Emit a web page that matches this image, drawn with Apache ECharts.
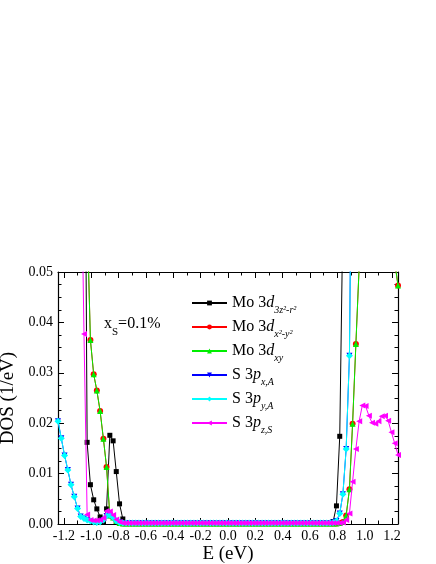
<!DOCTYPE html>
<html>
<head>
<meta charset="utf-8">
<script src="https://cdn.jsdelivr.net/npm/echarts@6/dist/echarts.min.js"></script>
<style>html,body{margin:0;padding:0;background:#fff}#c{width:436px;height:564px}</style>
</head>
<body>
<div id="c"></div>
<script>
// Energy grid (eV)
const energy = [
-1.243,-1.219,-1.195,-1.171,-1.148,-1.124,-1.100,-1.077,-1.053,-1.030,
-1.006,-0.982,-0.959,-0.935,-0.911,-0.888,-0.864,-0.840,-0.817,-0.793,
-0.769,-0.746,-0.722,-0.698,-0.675,-0.651,-0.627,-0.604,-0.580,-0.556,
-0.533,-0.509,-0.485,-0.462,-0.438,-0.414,-0.391,-0.367,-0.343,-0.320,
-0.296,-0.272,-0.249,-0.225,-0.201,-0.178,-0.154,-0.130,-0.107,-0.083,
-0.059,-0.036,-0.012,0.012,0.036,0.059,0.083,0.107,0.130,0.154,
0.178,0.201,0.225,0.249,0.272,0.296,0.320,0.343,0.367,0.391,
0.414,0.438,0.462,0.485,0.509,0.533,0.556,0.580,0.604,0.627,
0.651,0.675,0.698,0.722,0.746,0.769,0.793,0.817,0.840,0.864,
0.888,0.911,0.935,0.959,0.982,1.006,1.030,1.053,1.077,1.100,
1.124,1.148,1.171,1.195,1.219,1.243];

// Mo 3d_{3z2-r2}
const mo3z2 = [
0.35,0.33,0.31,0.30,0.28,0.26,0.22,0.18,0.12,0.0162,
0.0078,0.0048,0.0030,0.0014,0.0004,0.0030,0.0176,0.0165,0.0104,0.0040,
0.0010,0.0003,0.0001,0.0001,0.0001,0.0001,0.0001,0.0001,0.0001,0.0001,
0.0001,0.0001,0.0001,0.0001,0.0001,0.0001,0.0001,0.0001,0.0001,0.0001,
0.0001,0.0001,0.0001,0.0001,0.0001,0.0001,0.0001,0.0001,0.0001,0.0001,
0.0001,0.0001,0.0001,0.0001,0.0001,0.0001,0.0001,0.0001,0.0001,0.0001,
0.0001,0.0001,0.0001,0.0001,0.0001,0.0001,0.0001,0.0001,0.0001,0.0001,
0.0001,0.0001,0.0001,0.0001,0.0001,0.0001,0.0001,0.0001,0.0001,0.0001,
0.0001,0.0001,0.0001,0.0001,0.0002,0.0005,0.0036,0.0174,0.061,0.12,
0.18,0.24,0.28,0.30,0.32,0.33,0.34,0.35,0.35,0.36,
0.36,0.37,0.37,0.38,0.38,0.38];

// Mo 3d_{xy} (Mo 3d_{x2-y2} coincides)
const moXY = [
0.40,0.38,0.36,0.34,0.30,0.26,0.20,0.15,0.10,0.061,
0.0365,0.0297,0.0265,0.0224,0.0169,0.0113,0.0017,0.0013,0.0006,0.0002,
0.0001,0.0001,0.0001,0.0001,0.0001,0.0001,0.0001,0.0001,0.0001,0.0001,
0.0001,0.0001,0.0001,0.0001,0.0001,0.0001,0.0001,0.0001,0.0001,0.0001,
0.0001,0.0001,0.0001,0.0001,0.0001,0.0001,0.0001,0.0001,0.0001,0.0001,
0.0001,0.0001,0.0001,0.0001,0.0001,0.0001,0.0001,0.0001,0.0001,0.0001,
0.0001,0.0001,0.0001,0.0001,0.0001,0.0001,0.0001,0.0001,0.0001,0.0001,
0.0001,0.0001,0.0001,0.0001,0.0001,0.0001,0.0001,0.0001,0.0001,0.0001,
0.0001,0.0001,0.0001,0.0001,0.0001,0.0001,0.0001,0.0002,0.0004,0.0017,
0.0069,0.0199,0.0357,0.051,0.070,0.085,0.095,0.100,0.100,0.095,
0.090,0.080,0.070,0.060,0.052,0.0473];
const moX2Y2 = moXY;

// S 3p_{y,A} (S 3p_{x,A} coincides)
const sPyA = [
0.0204,0.0170,0.0136,0.0107,0.0078,0.0054,0.0031,0.0015,0.0011,0.0008,
0.0006,0.0004,0.0003,0.0004,0.0008,0.0016,0.0018,0.0013,0.0006,0.0003,
0.0002,0.0002,0.0002,0.0002,0.0002,0.0002,0.0002,0.0002,0.0002,0.0002,
0.0002,0.0002,0.0002,0.0002,0.0002,0.0002,0.0002,0.0002,0.0002,0.0002,
0.0002,0.0002,0.0002,0.0002,0.0002,0.0002,0.0002,0.0002,0.0002,0.0002,
0.0002,0.0002,0.0002,0.0002,0.0002,0.0002,0.0002,0.0002,0.0002,0.0002,
0.0002,0.0002,0.0002,0.0002,0.0002,0.0002,0.0002,0.0002,0.0002,0.0002,
0.0002,0.0002,0.0002,0.0002,0.0002,0.0002,0.0002,0.0002,0.0002,0.0002,
0.0002,0.0002,0.0002,0.0002,0.0002,0.0003,0.0006,0.0021,0.0059,0.0149,
0.0334,0.10,0.15,0.20,0.24,0.26,0.27,0.28,0.28,0.27,
0.26,0.25,0.24,0.23,0.22,0.21];
const sPxA = sPyA;

// S 3p_{z,S}
const sPzS = [
0.30,0.28,0.26,0.25,0.22,0.18,0.13,0.08,0.0377,0.0019,
0.0008,0.0007,0.0007,0.0008,0.0012,0.0026,0.0025,0.0018,0.0009,0.0004,
0.0002,0.0002,0.0002,0.0002,0.0002,0.0002,0.0002,0.0002,0.0002,0.0002,
0.0002,0.0002,0.0002,0.0002,0.0002,0.0002,0.0002,0.0002,0.0002,0.0002,
0.0002,0.0002,0.0002,0.0002,0.0002,0.0002,0.0002,0.0002,0.0002,0.0002,
0.0002,0.0002,0.0002,0.0002,0.0002,0.0002,0.0002,0.0002,0.0002,0.0002,
0.0002,0.0002,0.0002,0.0002,0.0002,0.0002,0.0002,0.0002,0.0002,0.0002,
0.0002,0.0002,0.0002,0.0002,0.0002,0.0002,0.0002,0.0002,0.0002,0.0002,
0.0002,0.0002,0.0002,0.0002,0.0002,0.0002,0.0002,0.0002,0.0003,0.0008,
0.0021,0.0084,0.0149,0.0204,0.0235,0.0234,0.0215,0.0201,0.0199,0.0204,
0.0214,0.0215,0.0205,0.0182,0.0160,0.0137];

const xMajorTicks = [-1.2,-1.0,-0.8,-0.6,-0.4,-0.2,0.0,0.2,0.4,0.6,0.8,1.0,1.2];
const xMinorTicks = [-1.1,-0.9,-0.7,-0.5,-0.3,-0.1,0.1,0.3,0.5,0.7,0.9,1.1];

const seriesNames = ['Mo 3d 3z2-r2','Mo 3d x2-y2','Mo 3d xy','S 3p x,A','S 3p y,A','S 3p z,S'];
const legendRich = {
  'Mo 3d 3z2-r2': '{n|Mo 3}{i|d}{s|3z²-r²}',
  'Mo 3d x2-y2': '{n|Mo 3}{i|d}{s|x²-y²}',
  'Mo 3d xy': '{n|Mo 3}{i|d}{s|xy}',
  'S 3p x,A': '{n|S 3}{i|p}{s|x,A}',
  'S 3p y,A': '{n|S 3}{i|p}{s|y,A}',
  'S 3p z,S': '{n|S 3}{i|p}{s|z,S}'
};

const FONT = 'Liberation Serif';
const chart = echarts.init(document.getElementById('c'), null, {renderer: 'canvas'});

function pairs(ys) { return energy.map((e, i) => [e, ys[i]]); }

const styles = [
  {color: '#000000', symbol: 'rect', size: 5, rot: 0},
  {color: '#ff0000', symbol: 'circle', size: 6, rot: 0},
  {color: '#00ee00', symbol: 'triangle', size: 6, rot: 0},
  {color: '#0000ff', symbol: 'triangle', size: 6, rot: 180},
  {color: '#00ffff', symbol: 'diamond', size: 7, rot: 0},
  {color: '#ff00ff', symbol: 'triangle', size: 6, rot: 90}
];
const dataSets = [mo3z2, moX2Y2, moXY, sPxA, sPyA, sPzS];

const series = dataSets.map((d, k) => ({
  name: seriesNames[k],
  type: 'line',
  xAxisIndex: 0, yAxisIndex: 0,
  data: pairs(d),
  symbol: styles[k].symbol,
  symbolSize: styles[k].size,
  symbolRotate: styles[k].rot,
  showSymbol: true,
  clip: true,
  lineStyle: {color: styles[k].color, width: 1},
  itemStyle: {color: styles[k].color},
  color: styles[k].color,
  z: 2 + k,
  animation: false
}));

const axisLine = {show: true, onZero: false, lineStyle: {color: '#000', width: 1.2}};
const noLine = {show: false, onZero: false};
const grid = {left: 58, right: 38, top: 272, bottom: 40, containLabel: false, outerBoundsMode: 'none'};

chart.setOption({
  animation: false,
  title: {
    text: '{a|x}{b|S}{a|=0.1%}',
    left: 99, top: 314,
    textStyle: {
      fontWeight: 'normal',
      rich: {
        a: {fontFamily: FONT, fontSize: 16, fontWeight: 'normal', color: '#000', lineHeight: 16, padding: [0,0,6,0]},
        b: {fontFamily: FONT, fontSize: 11, fontWeight: 'normal', color: '#000', lineHeight: 11, padding: [11,0,0,0]}
      }
    }
  },
  legend: {
    orient: 'vertical',
    left: 191, top: 291, padding: 0,
    itemWidth: 35, itemHeight: 6, itemGap: 0,
    data: seriesNames,
    formatter: name => legendRich[name],
    textStyle: {
      rich: {
        n: {fontFamily: FONT, fontSize: 16, color: '#000', lineHeight: 16, padding: [4,0,4,0]},
        i: {fontFamily: FONT, fontSize: 16, fontStyle: 'italic', color: '#000', lineHeight: 16, padding: [4,0,4,0]},
        s: {fontFamily: FONT, fontSize: 10, fontStyle: 'italic', color: '#000', lineHeight: 10, padding: [14,0,0,0]}
      }
    }
  },
  grid: [grid, Object.assign({}, grid)],
  xAxis: [
    {type: 'value', gridIndex: 0, position: 'bottom', min: -1.243, max: 1.243,
     name: 'E (eV)', nameLocation: 'middle', nameGap: 21,
     nameTextStyle: {fontFamily: FONT, fontSize: 19, color: '#000'},
     axisLine, splitLine: {show: false},
     axisTick: {show: true, inside: true, length: 6, customValues: xMajorTicks, lineStyle: {color: '#000', width: 1}},
     axisLabel: {customValues: xMajorTicks, fontFamily: FONT, fontSize: 14, color: '#000', margin: 5,
                 formatter: v => v.toFixed(1)}},
    {type: 'value', gridIndex: 0, position: 'top', min: -1.243, max: 1.243,
     axisLine, splitLine: {show: false}, axisLabel: {show: false},
     axisTick: {show: true, inside: true, length: 6, customValues: xMajorTicks, lineStyle: {color: '#000', width: 1}}},
    {type: 'value', gridIndex: 1, position: 'bottom', min: -1.243, max: 1.243,
     axisLine: noLine, splitLine: {show: false}, axisLabel: {show: false},
     axisTick: {show: true, inside: true, length: 3.5, customValues: xMinorTicks, lineStyle: {color: '#000', width: 1}}},
    {type: 'value', gridIndex: 1, position: 'top', min: -1.243, max: 1.243,
     axisLine: noLine, splitLine: {show: false}, axisLabel: {show: false},
     axisTick: {show: true, inside: true, length: 3.5, customValues: xMinorTicks, lineStyle: {color: '#000', width: 1}}}
  ],
  yAxis: [
    {type: 'value', gridIndex: 0, position: 'left', min: 0, max: 0.05, interval: 0.01,
     name: 'DOS (1/eV)', nameLocation: 'middle', nameGap: 40, nameRotate: 90,
     nameTextStyle: {fontFamily: FONT, fontSize: 19, color: '#000'},
     axisLine, splitLine: {show: false},
     axisTick: {show: true, inside: true, length: 6, lineStyle: {color: '#000', width: 1}},
     minorTick: {show: true, splitNumber: 4, length: 3.5, lineStyle: {color: '#000', width: 1}},
     minorSplitLine: {show: false},
     axisLabel: {fontFamily: FONT, fontSize: 14, color: '#000', margin: 5, formatter: v => v.toFixed(2)}},
    {type: 'value', gridIndex: 0, position: 'right', min: 0, max: 0.05, interval: 0.01,
     axisLine, splitLine: {show: false}, axisLabel: {show: false},
     axisTick: {show: true, inside: true, length: 6, lineStyle: {color: '#000', width: 1}},
     minorTick: {show: true, splitNumber: 4, length: 3.5, lineStyle: {color: '#000', width: 1}},
     minorSplitLine: {show: false}},
    {type: 'value', gridIndex: 1, min: 0, max: 0.05, show: false}
  ],
  series
});
</script>
</body>
</html>
